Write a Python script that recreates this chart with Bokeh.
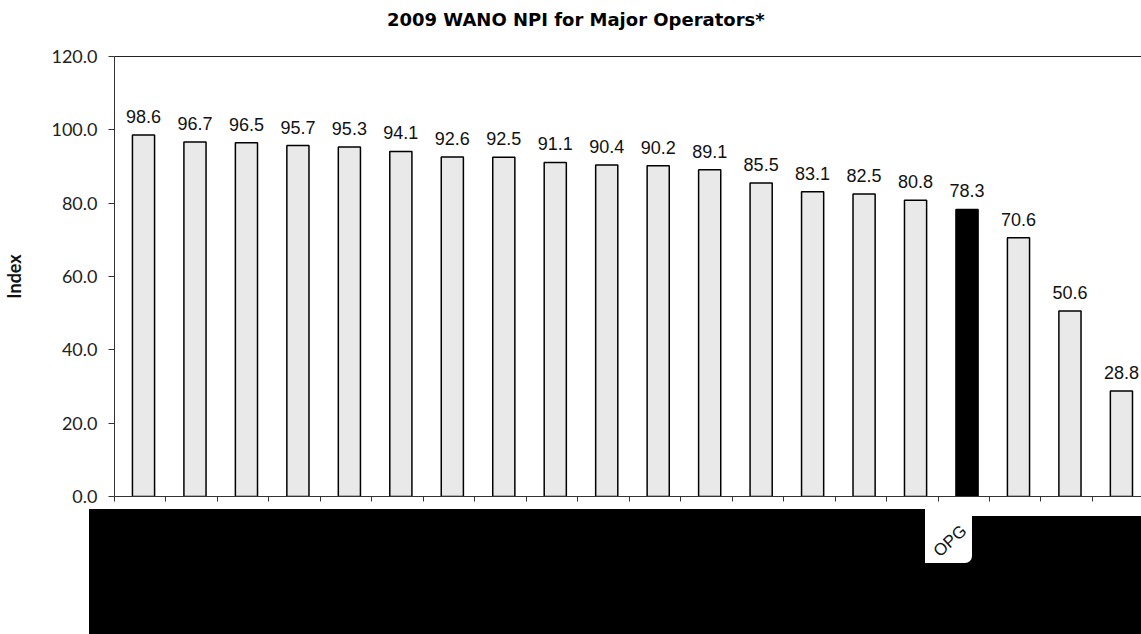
import math
from bokeh.plotting import figure
from bokeh.layouts import column
from bokeh.models import (ColumnDataSource, Range1d, FixedTicker, LinearAxis, LabelSet,
                          NumeralTickFormatter, Div)
from bokeh.core.properties import value
from bokeh.embed import file_html
from bokeh.resources import INLINE

# ---- data (operator names are redacted in the source, only OPG is legible) ----
title_text = "2009 WANO NPI for Major Operators*"
labels = ["", "", "", "", "", "", "", "", "", "", "", "", "", "", "", "", "OPG", "", "", ""]
npi = [98.6, 96.7, 96.5, 95.7, 95.3, 94.1, 92.6, 92.5, 91.1, 90.4,
       90.2, 89.1, 85.5, 83.1, 82.5, 80.8, 78.3, 70.6, 50.6, 28.8]
y_ticks = [0, 20, 40, 60, 80, 100, 120]

xs = list(range(len(npi)))
fills = ["black" if lab == "OPG" else "#e9e9e9" for lab in labels]
source = ColumnDataSource(dict(x=xs, v=npi, txt=[f"{v:.1f}" for v in npi], fill=fills))

X_START = -0.5636
X_END = 19.39

# title band
title_div = Div(text=f"""
<div style="position:relative;width:1141px;height:40px;background:#fff;">
  <div style="position:absolute;left:387px;top:20px;transform:translateY(-50%);
              font-family:'DejaVu Sans';font-weight:bold;font-size:18px;line-height:20px;
              color:#000;white-space:nowrap;">{title_text}</div>
</div>""", width=1141, height=40, margin=0)

p = figure(width=1141, height=469,
           x_range=Range1d(X_START, X_END), y_range=Range1d(0, 120),
           output_backend="svg", toolbar_location=None,
           min_border_left=114, min_border_right=0,
           min_border_top=16, min_border_bottom=13)

p.vbar(x="x", top="v", width=0.43, source=source,
       fill_color="fill", line_color="black", line_width=1.5)

p.add_layout(LabelSet(x="x", y="v", text="txt", source=source,
                      text_align="center", text_baseline="alphabetic", y_offset=12,
                      text_font=value("Liberation Sans"), text_font_size="18px",
                      text_color="#111111"))

# x axis (bottom)
xa = p.below[0]
xa.ticker = FixedTicker(ticks=xs, minor_ticks=[X_START + k for k in range(len(npi) + 1)])
xa.major_label_overrides = {i: " " for i in xs}
xa.major_label_text_font_size = "0px"
xa.major_label_standoff = 0
xa.major_tick_out = 0
xa.major_tick_in = 0
xa.minor_tick_out = 5
xa.minor_tick_in = 0
xa.axis_line_color = "#333333"
xa.minor_tick_line_color = "#333333"

# top border line
top_axis = LinearAxis(ticker=FixedTicker(ticks=[]), major_label_text_font_size="0px",
                      major_label_standoff=0,
                      major_tick_out=0, major_tick_in=0, minor_tick_out=0, minor_tick_in=0,
                      axis_line_color="#222222", axis_line_width=1)
p.add_layout(top_axis, "above")

# y axis
ya = p.left[0]
ya.ticker = FixedTicker(ticks=y_ticks)
ya.formatter = NumeralTickFormatter(format="0.0")
ya.major_tick_out = 6
ya.major_tick_in = 0
ya.minor_tick_line_color = None
ya.axis_line_color = "#333333"
ya.major_tick_line_color = "#333333"
ya.major_label_text_font = "Lato"
ya.major_label_text_font_size = "18px"
ya.major_label_text_color = "#222222"
ya.major_label_standoff = 11
ya.axis_label = "Index"
ya.axis_label_text_font = "Lato"
ya.axis_label_text_font_style = "bold"
ya.axis_label_text_font_size = "18px"
ya.axis_label_text_color = "#111111"
ya.axis_label_standoff = 23

p.xgrid.visible = False
p.ygrid.visible = False
p.outline_line_color = None
p.background_fill_color = "white"
p.border_fill_color = "white"

# redacted category-name band below the axis; only the OPG label is legible
opg_label = next(lab for lab in labels if lab)
band = f"""
<div style="position:relative;width:1141px;height:125px;overflow:hidden;background:#fff;">
  <div style="position:absolute;left:89px;top:0;width:836px;height:125px;background:#000;"></div>
  <div style="position:absolute;left:925px;top:0;width:47px;height:125px;background:#000;"></div>
  <div style="position:absolute;left:972px;top:7px;width:169px;height:118px;background:#000;"></div>
  <div style="position:absolute;left:925px;top:0;width:47px;height:54px;background:#fff;border-bottom-right-radius:7px;"></div>
  <div style="position:absolute;left:950px;top:32px;transform:translate(-50%,-50%) rotate(-42deg);
              font-family:'Liberation Sans';font-size:17px;line-height:17px;color:#111;white-space:nowrap;">{opg_label}</div>
</div>
"""
div = Div(text=band, width=1141, height=125, margin=0)

layout = column(title_div, p, div, spacing=0)
open("out.html", "w").write(file_html(layout, INLINE))
